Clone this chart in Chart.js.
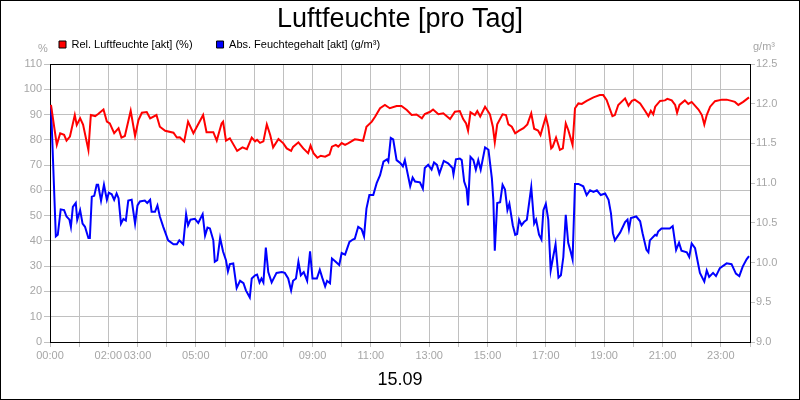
<!DOCTYPE html>
<html>
<head>
<meta charset="utf-8">
<title>Luftfeuchte [pro Tag]</title>
<script src="https://cdn.jsdelivr.net/npm/chart.js@4.4.1/dist/chart.umd.min.js"></script>
<style>
  html, body { margin: 0; padding: 0; background: #fff; }
  canvas { display: block; }
</style>
</head>
<body>
<canvas id="plot" width="800" height="400"></canvas>
<script>
// minutes since 00:00 and values
const relMinutes = [2,14,21,29,34,41,51,55,62,68,79,84,93,99,110,117,123,132,141,147,
  154,166,175,182,189,199,206,219,226,237,254,261,267,276,284,295,315,322,336,343,
  353,356,362,370,385,396,405,415,422,426,432,439,446,453,459,470,480,487,496,500,
  511,521,531,536,542,550,557,566,575,580,588,593,600,607,614,627,634,644,651,662,
  669,679,689,699,713,723,734,744,754,765,771,782,788,799,809,823,833,843,850,856,
  860,865,874,879,885,895,905,911,915,920,931,938,943,950,957,965,974,982,990,996,
  1004,1009,1020,1025,1031,1034,1041,1049,1055,1061,1066,1075,1080,1087,1094,1104,1118,1131,1138,1145,
  1157,1162,1169,1183,1190,1197,1203,1214,1224,1231,1236,1241,1245,1255,1265,1270,1279,1286,1290,1295,
  1306,1313,1320,1334,1341,1346,1351,1358,1368,1382,1392,1402,1409,1416,1426,1438];
const relValues = [93.8,78,82.6,82,79.7,81.3,89.8,85.9,88.5,86,76,89.8,89.4,90.2,92,87.2,86.5,82.6,84.6,80.9,
  81.5,91.5,81.5,87.8,90.7,91,88.5,89.8,85.2,83.6,82.8,80.9,81,79.3,87.2,82.6,89.8,83,83,79.7,
  86.5,87.2,79.7,80.6,75.6,77,76.3,80.9,79.4,80,78.8,79.4,86.1,81.9,77,80.3,78.6,76.6,75.6,77.2,
  79,76.6,74.7,77.7,74.7,72.9,73.7,73.3,74.2,77.3,78,77.3,78.7,78,78.7,80.2,80,79.6,85.2,87.2,
  89.2,92.5,93.8,92.5,93.4,93.4,91.8,89.8,90,88.5,90.2,91.1,92,90.1,90.5,88.2,91.1,91.4,88.2,86.5,
  83.6,90.9,89.8,91.4,89.2,93.1,90.1,85.2,79,86.1,90.1,89.8,86.1,85.2,82.6,83.6,84.6,86.1,90.5,84.4,
  83.7,81.9,89.2,85.2,76.6,77.2,80.9,76,76.6,86.5,84,78,92.5,94.4,94.2,95.4,96.8,97.7,97.7,95.8,
  89.4,89.8,93.8,96.4,93.5,95.4,95.9,94.4,91.5,89.4,91.5,90.1,93.1,95.4,95.6,96.2,95.6,93.8,90.7,93.8,
  95.6,94.2,95,92,89.8,86.1,89.8,93.1,95.3,95.9,95.9,95.4,95,93.8,95,96.8];

const absMinutes = [2,12,16,22,29,34,40,43,47,53,56,62,67,72,79,82,86,91,96,99,
  105,111,117,121,127,132,137,141,146,151,156,161,168,175,180,185,195,200,206,209,
  216,221,226,233,243,254,261,266,274,280,284,289,298,305,314,319,324,329,336,339,
  344,350,356,362,366,370,377,384,391,398,403,411,415,422,426,431,435,439,444,449,
  456,466,477,483,490,496,500,506,511,516,522,529,535,540,549,555,560,566,570,576,
  580,586,595,600,607,616,623,627,634,641,646,651,657,665,672,679,686,693,696,701,
  706,713,721,726,730,741,746,751,761,767,771,778,785,790,796,801,810,819,828,830,
  835,843,847,852,857,860,865,871,876,881,886,895,902,909,912,915,920,926,931,936,
  941,945,952,957,961,965,970,975,981,990,996,1000,1006,1011,1015,1020,1025,1030,1035,1040,
  1046,1051,1056,1061,1066,1071,1075,1080,1087,1097,1104,1111,1118,1125,1133,1142,1149,1154,1158,1162,
  1173,1183,1188,1191,1195,1206,1214,1219,1227,1231,1234,1245,1248,1251,1258,1275,1281,1288,1294,1299,
  1310,1315,1320,1327,1337,1346,1351,1356,1364,1370,1378,1392,1402,1411,1418,1425,1433,1438];
const absValues = [11.98,10.33,10.35,10.67,10.66,10.58,10.54,10.45,10.70,10.75,10.54,10.66,10.49,10.45,10.31,10.31,10.83,10.84,10.98,10.98,
  10.78,10.98,10.79,10.88,10.86,10.79,10.87,10.81,10.49,10.55,10.53,10.78,10.79,10.49,10.72,10.77,10.78,10.75,10.79,10.64,
  10.64,10.72,10.58,10.45,10.28,10.23,10.23,10.28,10.23,10.61,10.47,10.54,10.55,10.50,10.61,10.34,10.44,10.43,10.28,10.01,
  10.03,10.31,10.14,10.03,9.89,9.98,9.99,9.68,9.77,9.74,9.65,9.56,9.80,9.84,9.85,9.75,9.80,9.75,10.19,9.88,
  9.75,9.87,9.88,9.87,9.80,9.65,9.77,9.80,10.01,9.84,9.88,9.77,10.14,9.80,9.80,9.91,9.81,9.70,9.77,9.74,
  10.05,10.02,9.97,10.12,10.10,10.26,10.29,10.30,10.45,10.42,10.33,10.68,10.85,10.85,11.00,11.10,11.27,11.30,11.27,11.57,
  11.55,11.29,11.25,11.21,11.29,10.96,11.07,11.02,11.01,10.93,11.19,11.23,11.17,11.26,11.23,11.12,11.28,11.25,11.19,11.11,
  11.30,11.31,11.29,11.02,10.93,10.72,11.33,11.29,11.17,11.29,11.17,11.45,11.42,11.06,10.79,10.15,10.75,10.76,10.98,10.92,
  10.66,10.74,10.47,10.35,10.36,10.54,10.47,10.51,10.54,10.95,10.49,10.54,10.35,10.29,10.66,10.74,10.54,9.90,10.07,10.23,
  9.81,9.84,10.07,10.60,10.25,10.14,10.04,10.99,10.99,10.96,10.85,10.91,10.89,10.91,10.85,10.87,10.79,10.62,10.37,10.28,
  10.38,10.51,10.54,10.42,10.56,10.58,10.52,10.37,10.16,10.13,10.28,10.35,10.34,10.39,10.43,10.43,10.46,10.16,10.25,10.15,
  10.13,10.07,10.24,10.18,9.87,9.76,9.90,9.82,9.87,9.83,9.93,9.99,9.98,9.86,9.83,9.95,10.04,10.08];

const labelHours = [0,2,3,5,7,9,11,13,15,17,19,21,23];
const seriesNames = ["Rel. Luftfeuchte [akt] (%)", "Abs. Feuchtegehalt [akt] (g/m\u00b3)"];
const titleText = "Luftfeuchte [pro Tag]";
const dayText = "15.09";

const FONT = "'Liberation Sans', Arial, sans-serif";
const GREY_TEXT = "#a6a6a6";
const GRID = "#c0c0c0";

function pairs(xs, ys) {
  return xs.map((x, i) => ({ x: x, y: ys[i] }));
}

const framePlugin = {
  id: "frame",
  afterLayout(chart) {
    // legend sits at the left, like the original
    chart.legend.left = 35;
    chart.legend.top = 15;
  },
  afterDraw(chart) {
    const ctx = chart.ctx;
    const a = chart.chartArea;
    ctx.save();
    ctx.strokeStyle = "#000";
    ctx.lineWidth = 1;
    ctx.beginPath();
    ctx.moveTo(a.left, Math.round(a.top) + 0.5);
    ctx.lineTo(a.right, Math.round(a.top) + 0.5);
    ctx.stroke();
    ctx.strokeRect(0.5, 0.5, chart.width - 1, chart.height - 1);
    ctx.fillStyle = GREY_TEXT;
    ctx.font = "11px " + FONT;
    ctx.textBaseline = "middle";
    ctx.textAlign = "center";
    ctx.fillText("%", 43, 49);
    ctx.textAlign = "left";
    ctx.fillText("g/m\u00b3", 753, 47);
    ctx.restore();
  }
};

new Chart(document.getElementById("plot"), {
  type: "line",
  data: {
    datasets: [
      {
        label: seriesNames[0],
        data: pairs(relMinutes, relValues),
        borderColor: "#ff0000",
        backgroundColor: "#ff0000",
        borderWidth: 2,
        pointRadius: 0,
        tension: 0,
        yAxisID: "y"
      },
      {
        label: seriesNames[1],
        data: pairs(absMinutes, absValues),
        borderColor: "#0000ff",
        backgroundColor: "#0000ff",
        borderWidth: 2,
        pointRadius: 0,
        tension: 0,
        yAxisID: "y1"
      }
    ]
  },
  options: {
    responsive: false,
    animation: false,
    layout: { padding: 0 },
    plugins: {
      tooltip: { enabled: false },
      title: {
        display: true,
        text: titleText,
        color: "#000",
        font: { family: FONT, size: 27, weight: "normal" },
        padding: { top: 3, bottom: 0 }
      },
      legend: {
        display: true,
        position: "top",
        align: "start",
        maxHeight: 28.6,
        labels: {
          color: "#000",
          font: { family: FONT, size: 11 },
          boxWidth: 7,
          boxHeight: 7,
          padding: 24,
          generateLabels(chart) {
            const items = Chart.defaults.plugins.legend.labels.generateLabels(chart);
            items.forEach(it => { it.strokeStyle = "#000"; it.lineWidth = 1; });
            return items;
          }
        }
      }
    },
    scales: {
      x: {
        type: "linear",
        min: 0,
        max: 1440,
        afterFit(s) { s.height = 58; },
        border: { color: "#000", width: 1 },
        grid: { color: GRID, tickLength: 5 },
        ticks: {
          stepSize: 60,
          autoSkip: false,
          maxRotation: 0,
          padding: 2,
          color: GREY_TEXT,
          font: { family: FONT, size: 11 },
          callback(v) {
            const h = v / 60;
            return labelHours.includes(h) ? String(h).padStart(2, "0") + ":00" : "";
          }
        },
        title: {
          display: true,
          text: dayText,
          color: "#000",
          font: { family: FONT, size: 18 },
          padding: { top: 0, bottom: 9 }
        }
      },
      y: {
        position: "left",
        min: 0,
        max: 110,
        afterFit(s) { s.width = 50; },
        border: { color: "#000", width: 1 },
        grid: { color: GRID, tickLength: 6 },
        ticks: {
          stepSize: 10,
          padding: 2,
          color: GREY_TEXT,
          font: { family: FONT, size: 11 }
        }
      },
      y1: {
        position: "right",
        min: 9,
        max: 12.5,
        afterFit(s) { s.width = 50; },
        border: { color: "#000", width: 1 },
        grid: { drawOnChartArea: false, color: GRID, tickLength: 5 },
        ticks: {
          stepSize: 0.5,
          padding: 1,
          color: GREY_TEXT,
          font: { family: FONT, size: 11 },
          callback(v) { return v.toFixed(1); }
        }
      }
    }
  },
  plugins: [framePlugin]
});
</script>
</body>
</html>
